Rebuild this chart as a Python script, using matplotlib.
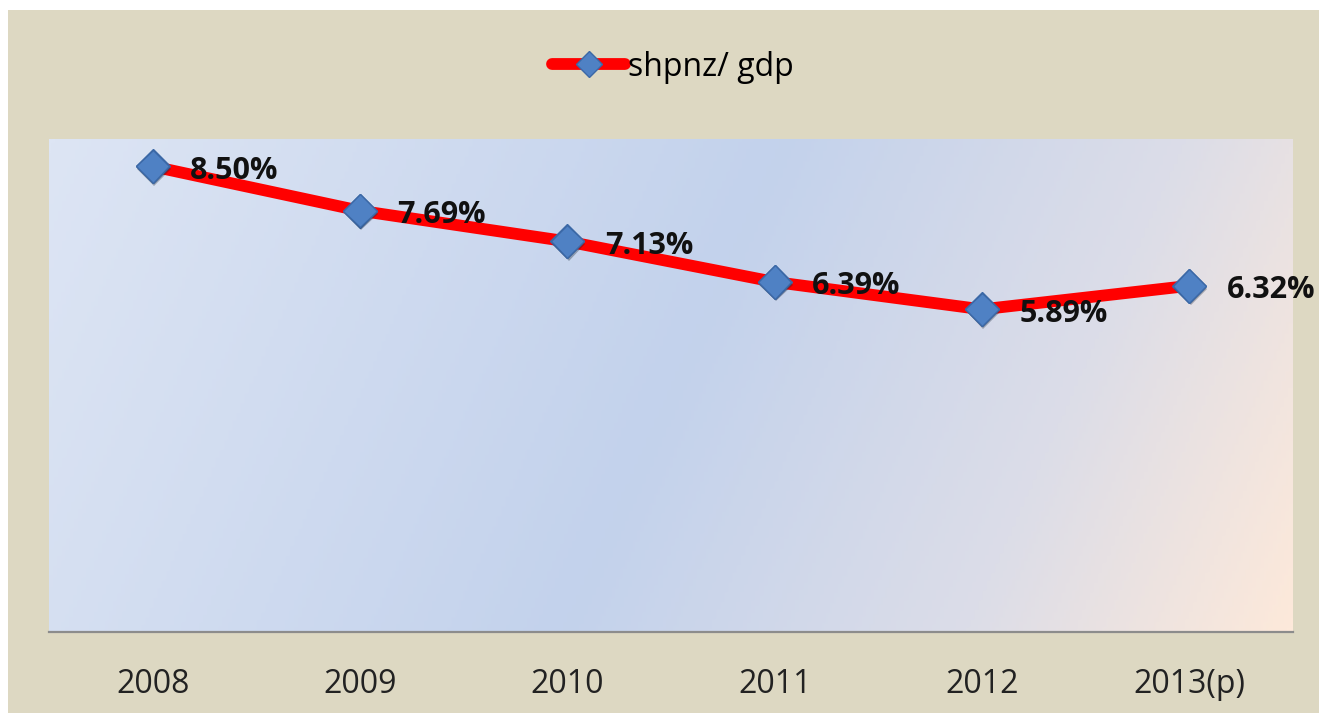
import numpy as np
import matplotlib
matplotlib.use("Agg")
import matplotlib.pyplot as plt
from matplotlib.patches import Rectangle
from matplotlib.colors import LinearSegmentedColormap
import matplotlib.patheffects as pe

# Daten
years = ["2008", "2009", "2010", "2011", "2012", "2013(p)"]
share = [8.50, 7.69, 7.13, 6.39, 5.89, 6.32]
series_name = "shpnz/ gdp"

plt.rcParams["font.family"] = ["Open Sans", "DejaVu Sans"]

fig = plt.figure(figsize=(13.19, 7.13), dpi=100)
fig.patch.set_facecolor("white")
# beiger Diagrammhintergrund mit weissem Rand oben/links
fig.patches.append(Rectangle((8 / 1319, -0.1), 1.1, 1.1 - 10 / 713, transform=fig.transFigure,
                             facecolor="#ddd8c2", edgecolor="none", zorder=-1))

ax = fig.add_axes([49 / 1319, 1 - 632 / 713, 1244 / 1319, 493 / 713])
ax.set_facecolor("none")

# Verlauf im Plotbereich (hellblau -> blau -> grau -> pfirsich)
grad_cmap = LinearSegmentedColormap.from_list("bg", [
    (0.0, "#dde5f4"), (0.5, "#c3d2ec"), (0.78, "#dcdde8"), (1.0, "#fde9da")])
xx, yy = np.meshgrid(np.linspace(0, 1, 300), np.linspace(0, 1, 200))
t = 0.85 * xx + 0.15 * yy
ax.imshow(t, cmap=grad_cmap, extent=(0, 1, 0, 1), transform=ax.transAxes,
          aspect="auto", origin="upper", zorder=0, vmin=0, vmax=1)

x = np.arange(len(years))
line, = ax.plot(x, share, color="#ff0000", lw=8.5, solid_capstyle="round",
                marker="D", markersize=17, markerfacecolor="#4f81c4",
                markeredgecolor="#3b68a6", markeredgewidth=1, zorder=3,
                label=series_name)
ax.plot(x, share, ls="none", marker="D", markersize=17, markerfacecolor="#4f81c4",
        markeredgecolor="#3b68a6", markeredgewidth=1, zorder=4,
        path_effects=[pe.SimplePatchShadow(offset=(1, -2), alpha=0.35), pe.Normal()])

for xi, v in zip(x, share):
    ax.annotate(f"{v:.2f}%", (xi, v), xytext=(27, -3), textcoords="offset points",
                ha="left", va="center", fontsize=22, fontweight="bold",
                color="#111111", zorder=5, annotation_clip=False)

ax.set_xlim(-0.5, len(years) - 0.5)
ax.set_ylim(0, 9)
ax.set_xticks(x)
ax.set_xticklabels(years, fontsize=23, color="#222222")
ax.set_yticks([])
ax.tick_params(axis="x", length=0, pad=26)
for s in ["top", "left", "right"]:
    ax.spines[s].set_visible(False)
ax.spines["bottom"].set_color("#8c8c8c")
ax.spines["bottom"].set_linewidth(1.6)

fig.legend(handles=[line], loc="center", bbox_to_anchor=(673 / 1319, 1 - 67 / 713),
           frameon=False, fontsize=23, handlelength=2.3, handletextpad=0.1,
           numpoints=1, markerscale=0.8)

fig.savefig("out.png", dpi=100, facecolor=fig.get_facecolor())
